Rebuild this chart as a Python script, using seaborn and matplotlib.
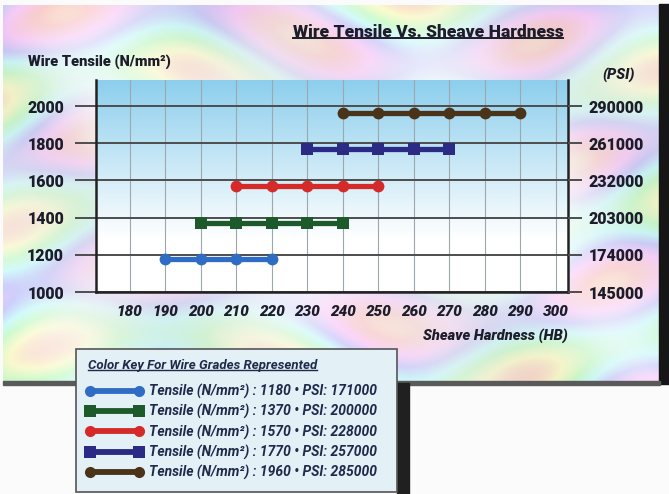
import numpy as np
import pandas as pd
import matplotlib
matplotlib.use("Agg")
import matplotlib.pyplot as plt
import seaborn as sns
from matplotlib.lines import Line2D
from matplotlib.patches import Rectangle
from matplotlib.colors import hsv_to_rgb

# ---------------------------------------------------------------- data
tensile_grades = [1180, 1370, 1570, 1770, 1960]          # N/mm^2
psi_grades = [171000, 200000, 228000, 257000, 285000]    # PSI
hardness_points = [
    [190, 200, 210, 220],
    [200, 210, 220, 230, 240],
    [210, 220, 230, 240, 250],
    [230, 240, 250, 260, 270],
    [240, 250, 260, 270, 280, 290],
]
grade_colors = ["#2f6dc4", "#1d5a2b", "#d42a2a", "#2b2a84", "#4a3318"]
grade_markers = ["o", "s", "o", "s", "o"]

tensile_ticks = [1000, 1200, 1400, 1600, 1800, 2000]
psi_ticks = [145000, 174000, 203000, 232000, 261000, 290000]
hardness_ticks = [180, 190, 200, 210, 220, 230, 240, 250, 260, 270, 280, 290, 300]
PSI_PER_NMM2 = 145

labels = [f"Tensile (N/mm²) : {t} • PSI: {p}" for t, p in zip(tensile_grades, psi_grades)]
rows = []
for lab, t, hs in zip(labels, tensile_grades, hardness_points):
    for h in hs:
        rows.append({"hardness": h, "tensile": t, "grade": lab})
df = pd.DataFrame(rows)

# ---------------------------------------------------------------- figure
W, H = 669, 494
fig = plt.figure(figsize=(W / 100, H / 100), dpi=100)
plt.rcParams["font.family"] = ["Roboto", "DejaVu Sans"]
INK = "#1c1c2a"


def fx(x):
    return x / W


def fy(y):
    return 1 - y / H


# pale iridescent card behind the chart
bg = fig.add_axes([0, 0, 1, 1], zorder=-10)
bg.set_xlim(0, W)
bg.set_ylim(H, 0)
bg.axis("off")
yy, xx = np.mgrid[0:H, 0:W].astype(float)
hue = (0.55 + 0.30 * np.sin(yy / 21.0 + 1.5 * np.sin(xx / 90.0))
       + 0.20 * np.sin(xx / 37.0 - yy / 120.0)) % 1.0
sat = 0.03 + 0.06 * (0.5 + 0.5 * np.sin(xx / 29.0 + 2.0 * np.sin(yy / 43.0)))
edge = np.clip(1 - np.minimum(np.minimum(xx, 660 - xx), np.minimum(yy, 383 - yy)) / 110.0, 0, 1)
sat = sat + 0.10 * edge
val = 0.965 + 0.02 * np.sin(xx / 47.0 - yy / 61.0)
tex = hsv_to_rgb(np.dstack([hue, np.clip(sat, 0, 1), np.clip(val, 0, 1)]))
card = np.ones_like(tex) * 0.985
inside = (xx >= 3) & (xx < 660) & (yy >= 6) & (yy < 383)
card[inside] = tex[inside]
bg.imshow(card, extent=(0, W, H, 0), aspect="auto", interpolation="bilinear", zorder=0)
bg.add_patch(Rectangle((659, 4), 10, 380, color="#161616", zorder=1))
bg.add_patch(Rectangle((3, 381), 657, 4, color="#5a5a5a", zorder=1))

# colour-key box with its shadow
bg.add_patch(Rectangle((397, 383), 12, 111, color="#202020", zorder=2))
bg.add_patch(Rectangle((76, 349), 321, 143, facecolor="#e3f0f6",
                       edgecolor="#555555", lw=1.2, zorder=3))

# ---------------------------------------------------------------- plot area
ax = fig.add_axes([fx(96), fy(292), (568 - 96) / W, (292 - 80) / H])
ax.patch.set_alpha(0)
ylim = (1000, 2140)
xlim = (170.5, 303.4)

f = np.linspace(0, 1, 256)[:, None]
t = np.clip((f - 0.25) / 0.75, 0, 1)
top = np.array([0.55, 0.81, 0.93])
grad = (1 - t)[..., None] * np.ones(3) + t[..., None] * top
grad = np.repeat(grad, 2, axis=1)
ax.imshow(grad, extent=(xlim[0], xlim[1], ylim[0], ylim[1]), origin="lower",
          aspect="auto", zorder=-1)

sns.lineplot(data=df, x="hardness", y="tensile", hue="grade", style="grade",
             palette=dict(zip(labels, grade_colors)),
             markers=dict(zip(labels, grade_markers)), dashes=False,
             lw=3.8, markersize=8.5, markeredgewidth=0, legend=False, ax=ax, zorder=5)

ax.set_xlim(*xlim)
ax.set_ylim(*ylim)
ax.set_axisbelow(True)
ax.set_xticks(hardness_ticks)
ax.set_yticks(tensile_ticks)
ax.grid(axis="y", color="#4d4d4d", lw=1.4)
ax.grid(axis="x", color="#9ea6ae", lw=0.8)
for side in ("left", "bottom", "right"):
    ax.spines[side].set_color("#222222")
    ax.spines[side].set_linewidth(1.8)
ax.spines["top"].set_visible(False)
ax.tick_params(axis="y", length=15, width=1.4, color="#4d4d4d", pad=8,
               labelsize=11.5, labelcolor=INK)
ax.tick_params(axis="x", length=0, pad=9, labelsize=11, labelcolor=INK)
for lab in ax.get_yticklabels():
    lab.set_fontweight("heavy")
for lab in ax.get_xticklabels():
    lab.set_fontweight("heavy")
    lab.set_fontstyle("italic")
ax.set_xlabel("Sheave Hardness (HB)", loc="right", fontsize=10.5, fontweight="heavy",
              fontstyle="italic", color=INK, labelpad=7)
ax.set_ylabel("")

ax2 = ax.twinx()
ax2.set_ylim(ylim[0] * PSI_PER_NMM2, ylim[1] * PSI_PER_NMM2)
ax2.set_yticks(psi_ticks)
ax2.set_yticklabels([str(v) for v in psi_ticks])
for side in ("left", "bottom", "top", "right"):
    ax2.spines[side].set_visible(False)
ax2.tick_params(axis="y", length=10, width=1.4, color="#4d4d4d", pad=5,
                labelsize=11.5, labelcolor=INK)
for lab in ax2.get_yticklabels():
    lab.set_fontweight("heavy")

# ---------------------------------------------------------------- texts
title = fig.text(fx(428), fy(32), "Wire Tensile Vs. Sheave Hardness", ha="center",
                 va="center", fontsize=12.5, fontweight="heavy", color=INK)
fig.text(fx(28), fy(62), "Wire Tensile (N/mm²)", ha="left", va="center",
         fontsize=10.5, fontweight="heavy", color=INK)
fig.text(fx(619), fy(75), "(PSI)", ha="center", va="center", fontsize=10.5,
         fontweight="heavy", fontstyle="italic", color=INK)
key_title = fig.text(fx(88), fy(365), "Color Key For Wire Grades Represented",
                     ha="left", va="center", fontsize=9.5, fontweight="bold",
                     fontstyle="italic", color="#1e2a4a")

handles = [Line2D([], [], color=c, lw=4.2, marker=m, markersize=8, markeredgewidth=0)
           for c, m in zip(grade_colors, grade_markers)]
leg = fig.legend(handles, labels, loc="upper left", bbox_to_anchor=(fx(86), fy(384)),
                 frameon=False, borderpad=0, borderaxespad=0, numpoints=2,
                 handlelength=4.1, handletextpad=0.45, labelspacing=0.38,
                 prop={"size": 10, "weight": "bold", "style": "italic"})
for txt in leg.get_texts():
    txt.set_color("#1e2a4a")

# underline the two headings
fig.canvas.draw()
inv = fig.transFigure.inverted()
for txt, off, lw in ((title, 2.0, 1.4), (key_title, 2.0, 1.0)):
    bb = txt.get_window_extent()
    (x0, y0), (x1, _) = inv.transform([(bb.x0, bb.y0 + off), (bb.x1, bb.y0 + off)])
    fig.add_artist(Line2D([x0, x1], [y0, y0], transform=fig.transFigure,
                          color=txt.get_color(), lw=lw))

fig.savefig("out.png", dpi=100)
